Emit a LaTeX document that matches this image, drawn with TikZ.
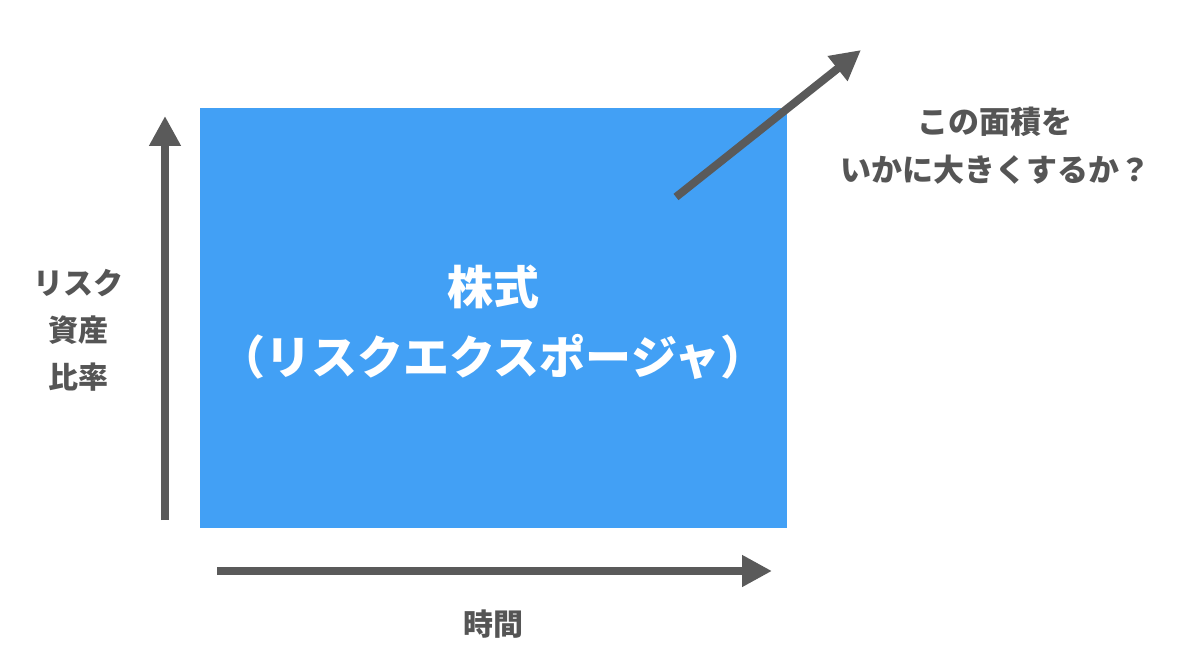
\documentclass[tikz,border=0pt]{standalone}
\usepackage{fontspec}
\setmainfont{Noto Sans CJK JP}
\usetikzlibrary{arrows.meta}
\definecolor{boxblue}{HTML}{42A0F5}
\definecolor{txtgray}{HTML}{555555}
\definecolor{arrgray}{HTML}{5A5A5A}
\tikzset{
  axis/.style={draw=arrgray, line width=8pt, -{Triangle[length=30pt,width=30pt]}},
  lbl/.style={text=txtgray, font=\bfseries\fontsize{30}{47}\selectfont, align=center, inner sep=0pt},
  qlbl/.style={text=txtgray, font=\bfseries\fontsize{31}{48}\selectfont, align=center, inner sep=0pt},
  inlbl/.style={text=white, font=\bfseries\fontsize{46}{70}\selectfont, align=center, inner sep=0pt}
}
\begin{document}
\begin{tikzpicture}[x=1pt,y=-1pt]
\useasboundingbox (0,0) rectangle (1200,660);
\fill[boxblue] (200,108) rectangle (787,528);
\node[inlbl] (stock) at (493,322) {株式\\（リスクエクスポージャ）};
\coordinate (vs) at (165,520);
\coordinate (ve) at (165,116);
\draw[axis] (vs) -- (ve);
\coordinate (hs) at (217,571);
\coordinate (he) at (772,571);
\draw[axis] (hs) -- (he);
\coordinate (ds) at (676,197);
\coordinate (de) at (861,50);
\draw[axis] (ds) -- (de);
\node[lbl] (risk) at (78,330) {リスク\\資産\\比率};
\node[lbl] (time) at (493,624) {時間};
\node[qlbl] (q) at (995,146) {この面積を\\いかに大きくするか？};
\end{tikzpicture}
\end{document}
